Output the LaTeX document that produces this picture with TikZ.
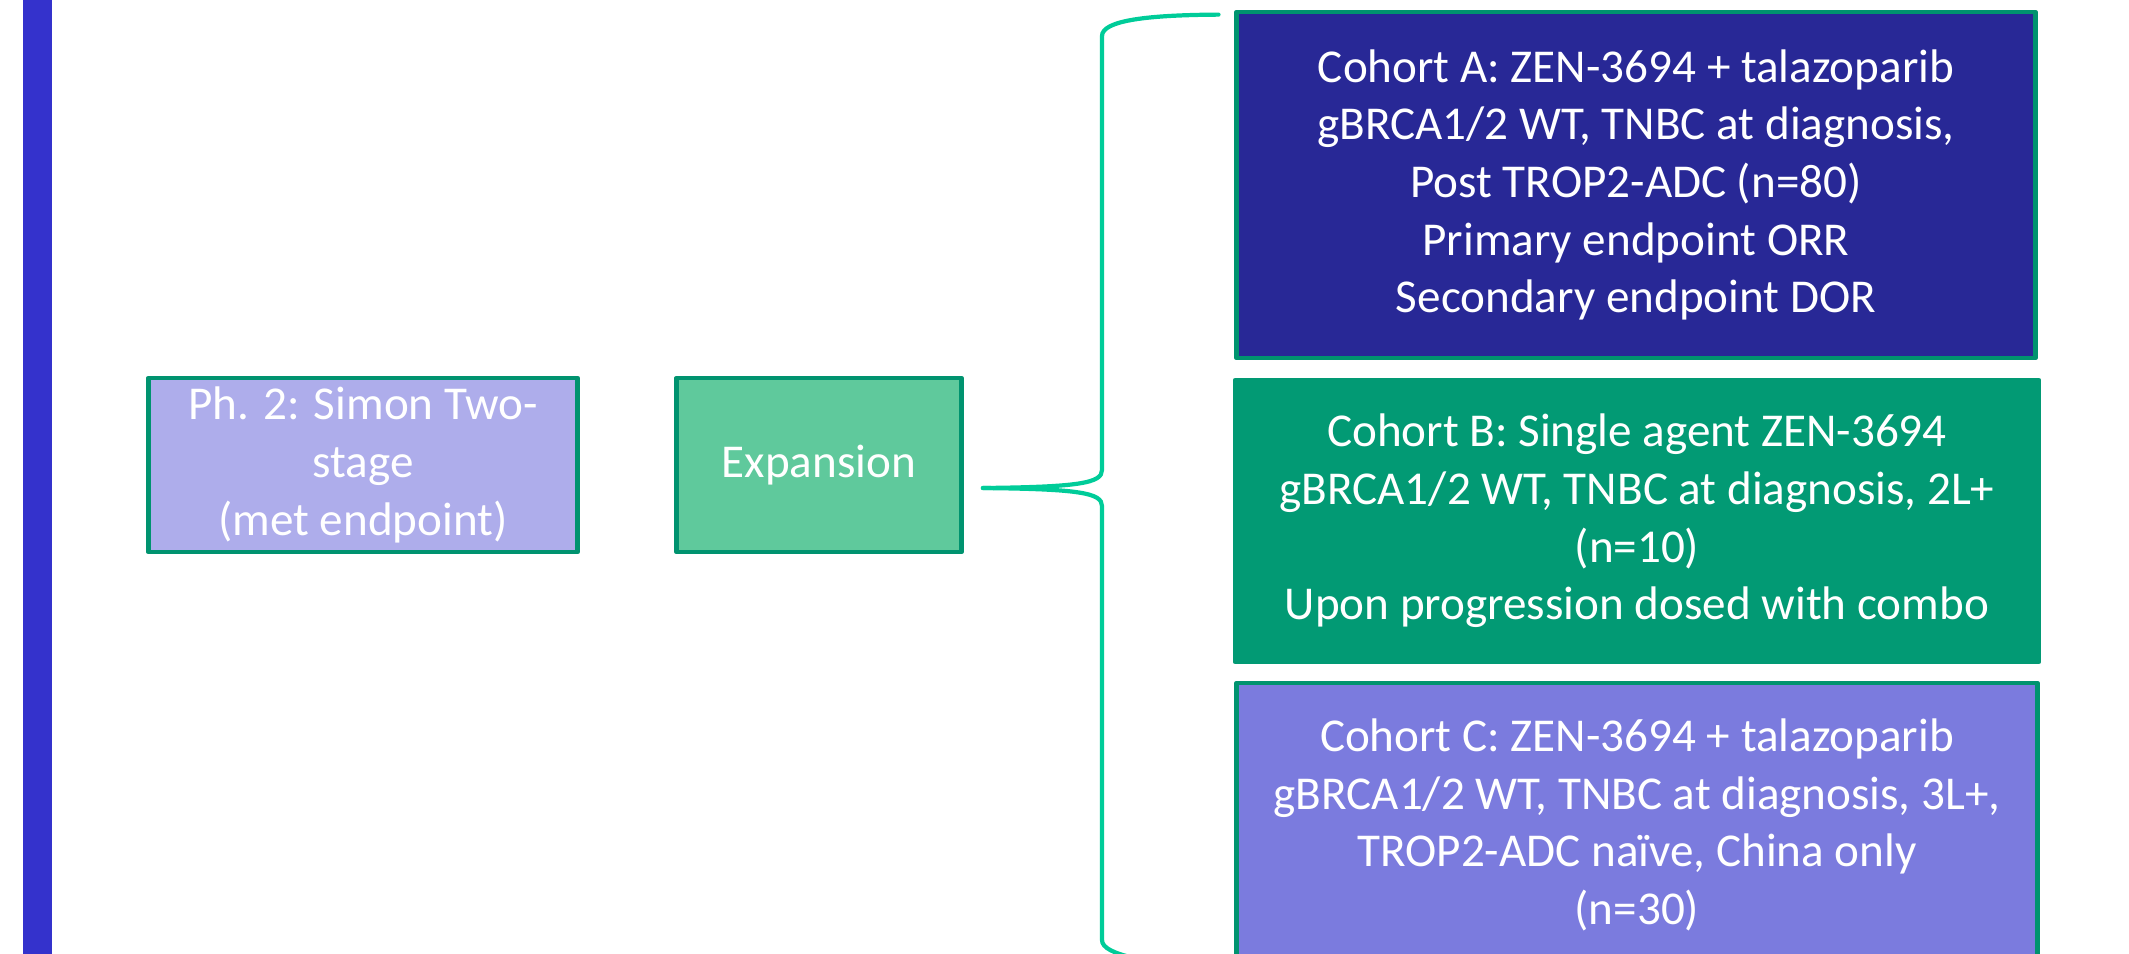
\documentclass[tikz,border=0pt]{standalone}
\usepackage{fontspec}
\setmainfont{Carlito}
\definecolor{barblue}{HTML}{3432CC}
\definecolor{edgegreen}{HTML}{00936F}
\definecolor{bracegreen}{HTML}{00CC99}
\definecolor{phfill}{HTML}{AEADEB}
\definecolor{expfill}{HTML}{5FC99C}
\definecolor{cohafill}{HTML}{282896}
\definecolor{cohbfill}{HTML}{029A74}
\definecolor{cohcfill}{HTML}{7B7BDE}
\tikzset{
  every picture/.style={line join=round, line cap=round},
  box/.style={draw=edgegreen, line width=1.3pt, text=white, align=center, inner sep=0pt,
    font=\fontsize{13.4}{16.4}\selectfont},
  brace/.style={draw=bracegreen, line width=1.2pt},
}

\begin{document}
\begin{tikzpicture}[x=0.01cm,y=-0.01cm]
\useasboundingbox (0,0) rectangle (2129,954);
\clip (0,0) rectangle (2129,954);
\fill[barblue](23,0) rectangle (52,954);
\node[box, fill=phfill, minimum width=4.29cm, minimum height=1.74cm] (ph2) at (363,465)
  {Ph. 2: Simon Two-\\stage\\(met endpoint)};
\node[box, fill=expfill, minimum width=2.85cm, minimum height=1.74cm] (exp) at (819,465) {Expansion};
\node[box, fill=cohafill, minimum width=7.98cm, minimum height=3.46cm] (coha) at (1636,185)
  {Cohort A: ZEN-3694 + talazoparib\\gBRCA1/2 WT, TNBC at diagnosis,\\Post TROP2-ADC (n=80)\\Primary endpoint ORR\\Secondary endpoint DOR};
\node[box, draw=cohbfill, fill=cohbfill, minimum width=8.03cm, minimum height=2.82cm] (cohb) at (1637,521)
  {Cohort B: Single agent ZEN-3694\\gBRCA1/2 WT, TNBC at diagnosis, 2L+\\(n=10)\\Upon progression dosed with combo};
\node[box, fill=cohcfill, minimum width=8.00cm, minimum height=2.84cm] (cohc) at (1637,825)
  {Cohort C: ZEN-3694 + talazoparib\\gBRCA1/2 WT, TNBC at diagnosis, 3L+,\\TROP2-ADC na\"ive, China only\\(n=30)};
\coordinate (tip) at ([xshift=0.19cm,yshift=-0.23cm]exp.east);
\coordinate (topend) at ([xshift=-0.16cm,yshift=-0.05cm]coha.north west);
\coordinate (botend) at ([xshift=-0.16cm,yshift=-0.05cm]cohc.south west);
\draw[brace](tip) .. controls (1080,487) and (1102,483) .. (1102,470) -- (1102,36)
  .. controls (1102,20) and (1150,15) .. (topend);
\draw[brace](tip) .. controls (1080,489) and (1102,493) .. (1102,506) -- (1102,940)
  .. controls (1102,956) and (1150,961) .. (botend);
\end{tikzpicture}
\end{document}
